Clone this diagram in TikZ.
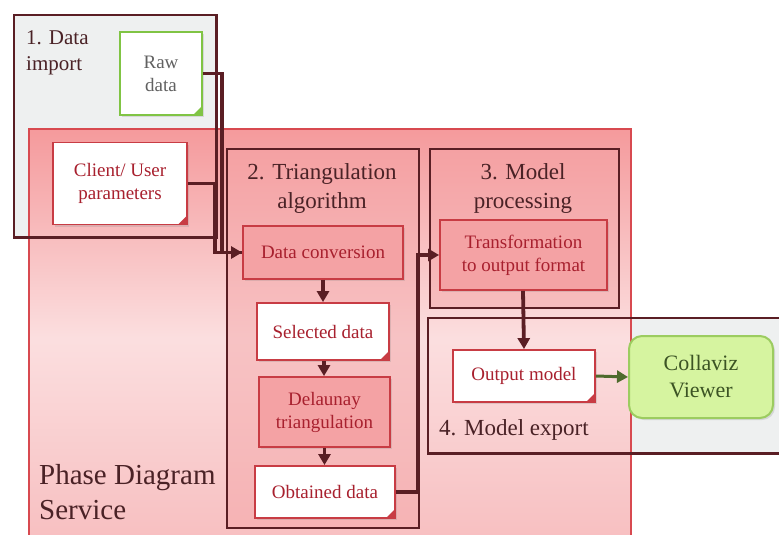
\documentclass[tikz,border=0pt]{standalone}
\usepackage{fontspec}
\setmainfont{Liberation Serif}
\usetikzlibrary{arrows.meta,shadows,calc}
\definecolor{maroon}{HTML}{5A1E24}
\definecolor{boxred}{HTML}{C83C44}
\definecolor{txtred}{HTML}{A8202E}
\definecolor{pinkfill}{HTML}{F4A2A4}
\definecolor{pdsborder}{HTML}{D84A50}
\definecolor{grayfill}{HTML}{EEF0F0}
\definecolor{rawgreen}{HTML}{80C444}
\definecolor{cvfill}{HTML}{D6F4A0}
\definecolor{cvborder}{HTML}{9CCC60}
\definecolor{cvtext}{HTML}{3C5424}
\definecolor{hdtext}{HTML}{4A2226}
\definecolor{conngreen}{HTML}{4E6A2C}
\begin{document}
\begin{tikzpicture}[x=1pt,y=-1pt,
  boxtext/.style={font=\fontsize{19}{23}\selectfont, align=center, text=txtred},
  hdr/.style={font=\fontsize{23}{29}\selectfont, align=center, text=hdtext},
  container/.style={anchor=north west, inner sep=0pt},
  shad/.style={drop shadow={opacity=0.22, shadow xshift=2pt, shadow yshift=-2pt}},
  doc/.style={boxtext, shad, draw=boxred, fill=white, line width=1.8pt, inner sep=0pt,
    path picture={\fill[boxred] ([xshift=-9pt]path picture bounding box.south east) -- ([yshift=9pt]path picture bounding box.south east) -- (path picture bounding box.south east) -- cycle;}},
  procbox/.style={boxtext, shad, draw=boxred, fill=pinkfill, line width=1.8pt, inner sep=0pt},
  conn/.style={draw=maroon, line width=3.8pt},
  arr/.style={conn, -{Triangle[length=11pt,width=12pt]}}
]
\useasboundingbox (0,0) rectangle (779,535);

% container backgrounds
\node[container, minimum width=202pt, minimum height=222pt, fill=grayfill] (imp) at (14,15) {};
\node[container, minimum width=365pt, minimum height=135pt, fill=grayfill] (me) at (428,318) {};
\node[container, minimum width=602pt, minimum height=420pt, draw=pdsborder, line width=1.6pt,
  top color=pinkfill!95!red, bottom color=pinkfill!70!white, middle color=pinkfill!35!white] (pds) at (28,128) {};
\draw[maroon, line width=2.4pt] (imp.north west) rectangle (imp.south east);
\draw[maroon, line width=2.4pt] (me.north west) rectangle (me.south east);

\node[container, minimum width=192pt, minimum height=379pt, draw=maroon, line width=2.4pt, fill=pinkfill, fill opacity=0.45, draw opacity=1] (tri) at (226,148) {};
\node[container, minimum width=189pt, minimum height=159pt, draw=maroon, line width=2.4pt, fill=pinkfill, fill opacity=0.45, draw opacity=1] (mp) at (429,148) {};

% labels
\node[anchor=north west, font=\fontsize{21}{26}\selectfont, align=left, text=hdtext, inner sep=0pt] (limp) at (26,30) {1. Data\\import};
\node[hdr] (ltri) at (322,189) {2. Triangulation\\algorithm};
\node[hdr] (lmp) at (523,189) {3. Model\\processing};
\node[anchor=west, font=\fontsize{23}{28}\selectfont, text=hdtext, inner sep=0pt] (lme) at (439,430) {4. Model export};
\node[anchor=north west, font=\fontsize{29}{35}\selectfont, align=left, text=hdtext, inner sep=0pt] (lpds) at (39,464) {Phase Diagram\\Service};

% nodes
\node[doc, draw=rawgreen, text=black!62, minimum width=82pt, minimum height=83pt,
  path picture={\fill[rawgreen] ([xshift=-9pt]path picture bounding box.south east) -- ([yshift=9pt]path picture bounding box.south east) -- (path picture bounding box.south east) -- cycle;}] (raw) at (161,73.5) {Raw\\data};
\node[doc, minimum width=134pt, minimum height=82pt] (cp) at (120,183.5) {Client/ User\\parameters};
\node[procbox, minimum width=160pt, minimum height=53pt] (dc) at (323,252.5) {Data conversion};
\node[doc, minimum width=132pt, minimum height=57pt] (sd) at (323,331.5) {Selected data};
\node[procbox, minimum width=131pt, minimum height=70pt] (dt) at (324.5,412) {Delaunay\\triangulation};
\node[doc, minimum width=140pt, minimum height=52pt] (od) at (325,492) {Obtained data};
\node[procbox, minimum width=167pt, minimum height=70pt] (tr) at (523.5,255) {Transformation\\to output format};
\node[doc, minimum width=142pt, minimum height=52pt] (om) at (524,376) {Output model};
\node[shad, draw=cvborder, fill=cvfill, line width=2pt, rounded corners=13pt, minimum width=144pt, minimum height=82pt,
  font=\fontsize{22}{27}\selectfont, align=center, text=cvtext] (cv) at (701,377) {Collaviz\\Viewer};

% connectors
\coordinate (j1) at (222,252.5);
\coordinate (j2) at (215,252.5);
\coordinate (j3) at (418,255);
\draw[conn] (cp.east) -| (j2) -- (dc.west);
\draw[arr] (raw.east) -| (j1) -- (dc.west);
\draw[arr] (dc.south) -- (sd.north);
\draw[arr] ($(sd.south)+(1,0)$) -- ($(dt.north)+(-0.5,0)$);
\draw[arr] (dt.south) -- ($(od.north)+(-0.5,0)$);
\draw[arr] (od.east) -| (j3) -- (tr.west);
\draw[arr] ($(tr.south)+(-0.5,0)$) -- (om.north);
\draw[arr, draw=conngreen, fill=conngreen, line width=3pt] (om.east) -- (cv.west);
\end{tikzpicture}
\end{document}
